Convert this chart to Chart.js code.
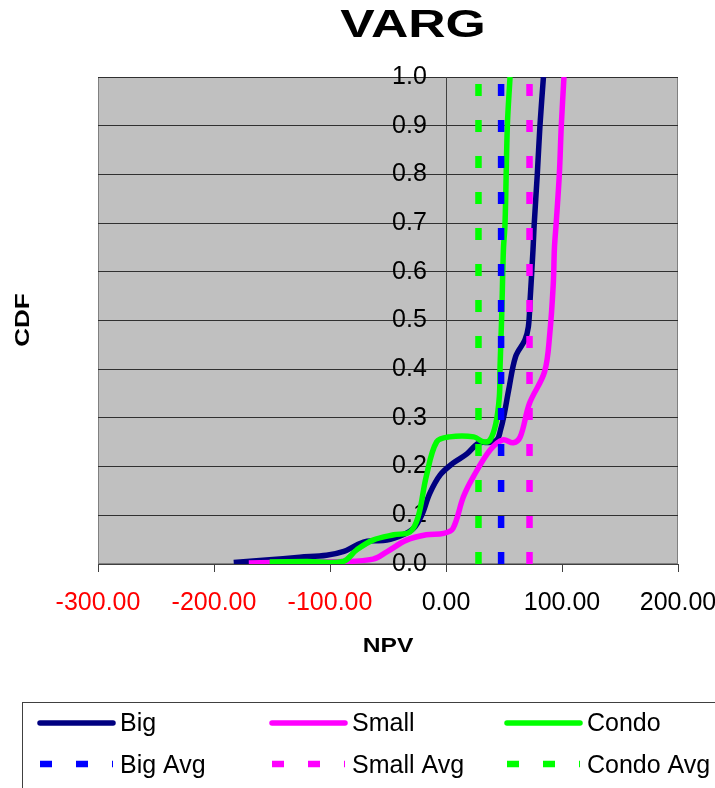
<!DOCTYPE html>
<html>
<head>
<meta charset="utf-8">
<title>VARG</title>
<script src="https://cdn.jsdelivr.net/npm/chart.js@4.4.1/dist/chart.umd.min.js"></script>
<style>
  html, body { margin: 0; padding: 0; background: #ffffff; }
  #wrap { width: 715px; height: 788px; position: relative; overflow: hidden; }
  canvas { display: block; }
</style>
</head>
<body>
<div id="wrap"><canvas id="cdf" width="715" height="788"></canvas></div>
<script>
// NPV values and cumulative probabilities for each property type
const npvBig   = [-183, -155, -126, -103, -88, -77, -68, -51, -37, -28, -21, -14, -5, 6, 18, 28, 38, 44, 47, 50, 54, 60, 68, 71, 72.5, 75, 76.1, 78.7, 81, 84];
const cdfBig   = [0.003, 0.008, 0.014, 0.018, 0.026, 0.039, 0.047, 0.049, 0.06, 0.073, 0.10, 0.145, 0.183, 0.207, 0.226, 0.248, 0.25, 0.255, 0.275, 0.305, 0.357, 0.426, 0.46, 0.487, 0.542, 0.645, 0.7, 0.8, 0.9, 1.0];

const npvSmall = [-170, -130, -89, -63, -51, -34, -17, -2, 6, 15, 23.5, 38, 49, 58, 64, 72, 85, 89.5, 92.5, 93.5, 95, 97.7, 99.4, 101.7];
const cdfSmall = [0.002, 0.004, 0.005, 0.01, 0.025, 0.049, 0.06, 0.063, 0.073, 0.138, 0.179, 0.234, 0.255, 0.249, 0.261, 0.33, 0.395, 0.474, 0.576, 0.65, 0.7, 0.8, 0.9, 1.0];

const npvCondo = [-152, -120, -89, -77, -63, -45, -31, -24, -17, -8, 3, 24, 32, 38, 43, 46, 46.6, 48, 49.5, 50.9, 52.9, 55.2];
const cdfCondo = [0.004, 0.005, 0.005, 0.029, 0.049, 0.06, 0.066, 0.097, 0.18, 0.251, 0.261, 0.261, 0.251, 0.255, 0.289, 0.344, 0.405, 0.508, 0.645, 0.7, 0.9, 1.0];

// Mean NPV per property type
const avgBig = 47.5;
const avgSmall = 72;
const avgCondo = 28;

// Axis ticks
const xTicks = [-300, -200, -100, 0, 100, 200];
const yTicks = [0, 0.1, 0.2, 0.3, 0.4, 0.5, 0.6, 0.7, 0.8, 0.9, 1.0];

const toPoints = (xs, ys) => xs.map((x, i) => ({ x: x, y: ys[i] }));
const avgLine = v => [{ x: v, y: 0 }, { x: v, y: 1 }];

const FONT = '"Liberation Sans", Arial, Helvetica, sans-serif';
const DASH = [12, 24];

const series = [
  { label: 'Big',        data: toPoints(npvBig, cdfBig),     color: '#000080', dashed: false, order: 6 },
  { label: 'Small',      data: toPoints(npvSmall, cdfSmall), color: '#FF00FF', dashed: false, order: 5 },
  { label: 'Condo',      data: toPoints(npvCondo, cdfCondo), color: '#00FF00', dashed: false, order: 4 },
  { label: 'Big Avg',    data: avgLine(avgBig),              color: '#0000FF', dashed: true,  order: 3 },
  { label: 'Small Avg',  data: avgLine(avgSmall),            color: '#FF00FF', dashed: true,  order: 2 },
  { label: 'Condo Avg',  data: avgLine(avgCondo),            color: '#00FF00', dashed: true,  order: 1 }
];

const datasets = series.map(s => ({
  label: s.label,
  data: s.data,
  order: s.order,
  showLine: true,
  fill: false,
  pointRadius: 0,
  pointHoverRadius: 0,
  borderColor: s.color,
  backgroundColor: s.color,
  borderWidth: s.dashed ? 6.5 : 5.5,
  borderDash: s.dashed ? DASH : [],
  borderCapStyle: 'butt',
  borderJoinStyle: 'round',
  tension: s.dashed ? 0 : 0.35
}));

// Grey plot background and frame
const plotFrame = {
  id: 'plotFrame',
  beforeDraw(chart) {
    const { ctx, chartArea: a } = chart;
    ctx.save();
    ctx.fillStyle = '#C0C0C0';
    ctx.fillRect(a.left, a.top, a.right - a.left, a.bottom - a.top);
    ctx.strokeStyle = '#808080';
    ctx.lineWidth = 1;
    ctx.strokeRect(a.left + 0.5, a.top + 0.5, a.right - a.left - 1, a.bottom - a.top - 1);
    ctx.restore();
  }
};

// Chart title and axis titles
const titles = {
  id: 'titles',
  afterDraw(chart) {
    const ctx = chart.ctx;
    const drawStretched = (text, font, x, y, sx, rot) => {
      ctx.save();
      ctx.translate(x, y);
      if (rot) ctx.rotate(rot);
      ctx.scale(sx, 1);
      ctx.font = font;
      ctx.fillStyle = '#000000';
      ctx.textAlign = 'center';
      ctx.textBaseline = 'alphabetic';
      ctx.fillText(text, 0, 0);
      ctx.restore();
    };
    drawStretched('VARG', 'bold 38px ' + FONT, 413, 37, 1.36, 0);
    drawStretched('NPV', 'bold 20px ' + FONT, 388, 652, 1.23, 0);
    drawStretched('CDF', 'bold 20px ' + FONT, 29, 320, 1.3, -Math.PI / 2);
  }
};

// Boxed legend in three columns
const boxLegend = {
  id: 'boxLegend',
  afterDraw(chart) {
    const ctx = chart.ctx;
    ctx.save();
    ctx.strokeStyle = '#404040';
    ctx.lineWidth = 1;
    ctx.strokeRect(22.5, 702.5, 720, 120);
    const cols = [40, 272, 507];
    const rows = [723, 764];
    const baselines = [731, 773];
    chart.data.datasets.forEach((ds, i) => {
      const col = i % 3, row = Math.floor(i / 3);
      const x0 = cols[col], y = rows[row];
      ctx.beginPath();
      ctx.strokeStyle = ds.borderColor;
      ctx.lineWidth = ds.borderWidth;
      if (ds.borderDash.length) {
        ctx.setLineDash(ds.borderDash);
        ctx.lineCap = 'butt';
      } else {
        ctx.setLineDash([]);
        ctx.lineCap = 'round';
      }
      ctx.moveTo(x0, y);
      ctx.lineTo(x0 + 73, y);
      ctx.stroke();
      ctx.setLineDash([]);
      ctx.font = '25px ' + FONT;
      ctx.fillStyle = '#000000';
      ctx.textAlign = 'left';
      ctx.textBaseline = 'alphabetic';
      ctx.fillText(ds.label, x0 + 80, baselines[row]);
    });
    ctx.restore();
  }
};

const yTickFont = { size: 25, family: FONT };
const yTickLabel = v => Number(v).toFixed(1);

new Chart(document.getElementById('cdf'), {
  type: 'scatter',
  data: { datasets: datasets },
  plugins: [plotFrame, titles, boxLegend],
  options: {
    responsive: false,
    animation: false,
    devicePixelRatio: 1,
    layout: { padding: { left: 98, right: 37, top: 77, bottom: 0 } },
    plugins: {
      legend: { display: false },
      title: { display: false },
      tooltip: { enabled: false }
    },
    events: [],
    scales: {
      x: {
        type: 'linear',
        position: 'bottom',
        min: -300,
        max: 200,
        afterBuildTicks: s => { s.ticks = xTicks.map(v => ({ value: v })); },
        afterFit: s => { s.height = 224; s.paddingLeft = 0; s.paddingRight = 0; },
        ticks: {
          autoSkip: false,
          maxRotation: 0,
          padding: 16,
          font: { size: 25, family: FONT },
          color: c => (c.tick && c.tick.value < 0) ? '#FF0000' : '#000000',
          callback: v => Number(v).toFixed(2)
        },
        grid: { drawOnChartArea: false, drawTicks: true, tickLength: 8, color: '#404040', lineWidth: 1 },
        border: { display: true, color: '#404040', width: 1 }
      },
      // value axis crossing at NPV = 0: gridlines, tick marks and axis line
      y: {
        type: 'linear',
        position: { x: 0 },
        min: 0,
        max: 1,
        afterBuildTicks: s => { s.ticks = yTicks.map(v => ({ value: v })); },
        afterFit: s => { s.paddingTop = 0; s.paddingBottom = 0; },
        ticks: { display: false },
        grid: { drawOnChartArea: true, drawTicks: true, tickLength: 8, color: '#303030', lineWidth: 1 },
        border: { display: true, color: '#404040', width: 1 }
      },
      // its tick labels, set a little to the left of the axis line
      yLabels: {
        type: 'linear',
        axis: 'y',
        position: { x: -16.5 },
        min: 0,
        max: 1,
        afterBuildTicks: s => { s.ticks = yTicks.map(v => ({ value: v })); },
        afterFit: s => { s.paddingTop = 0; s.paddingBottom = 0; },
        ticks: {
          autoSkip: false,
          padding: 0,
          font: yTickFont,
          color: '#000000',
          callback: yTickLabel
        },
        grid: { display: false },
        border: { display: false }
      }
    }
  }
});
</script>
</body>
</html>
